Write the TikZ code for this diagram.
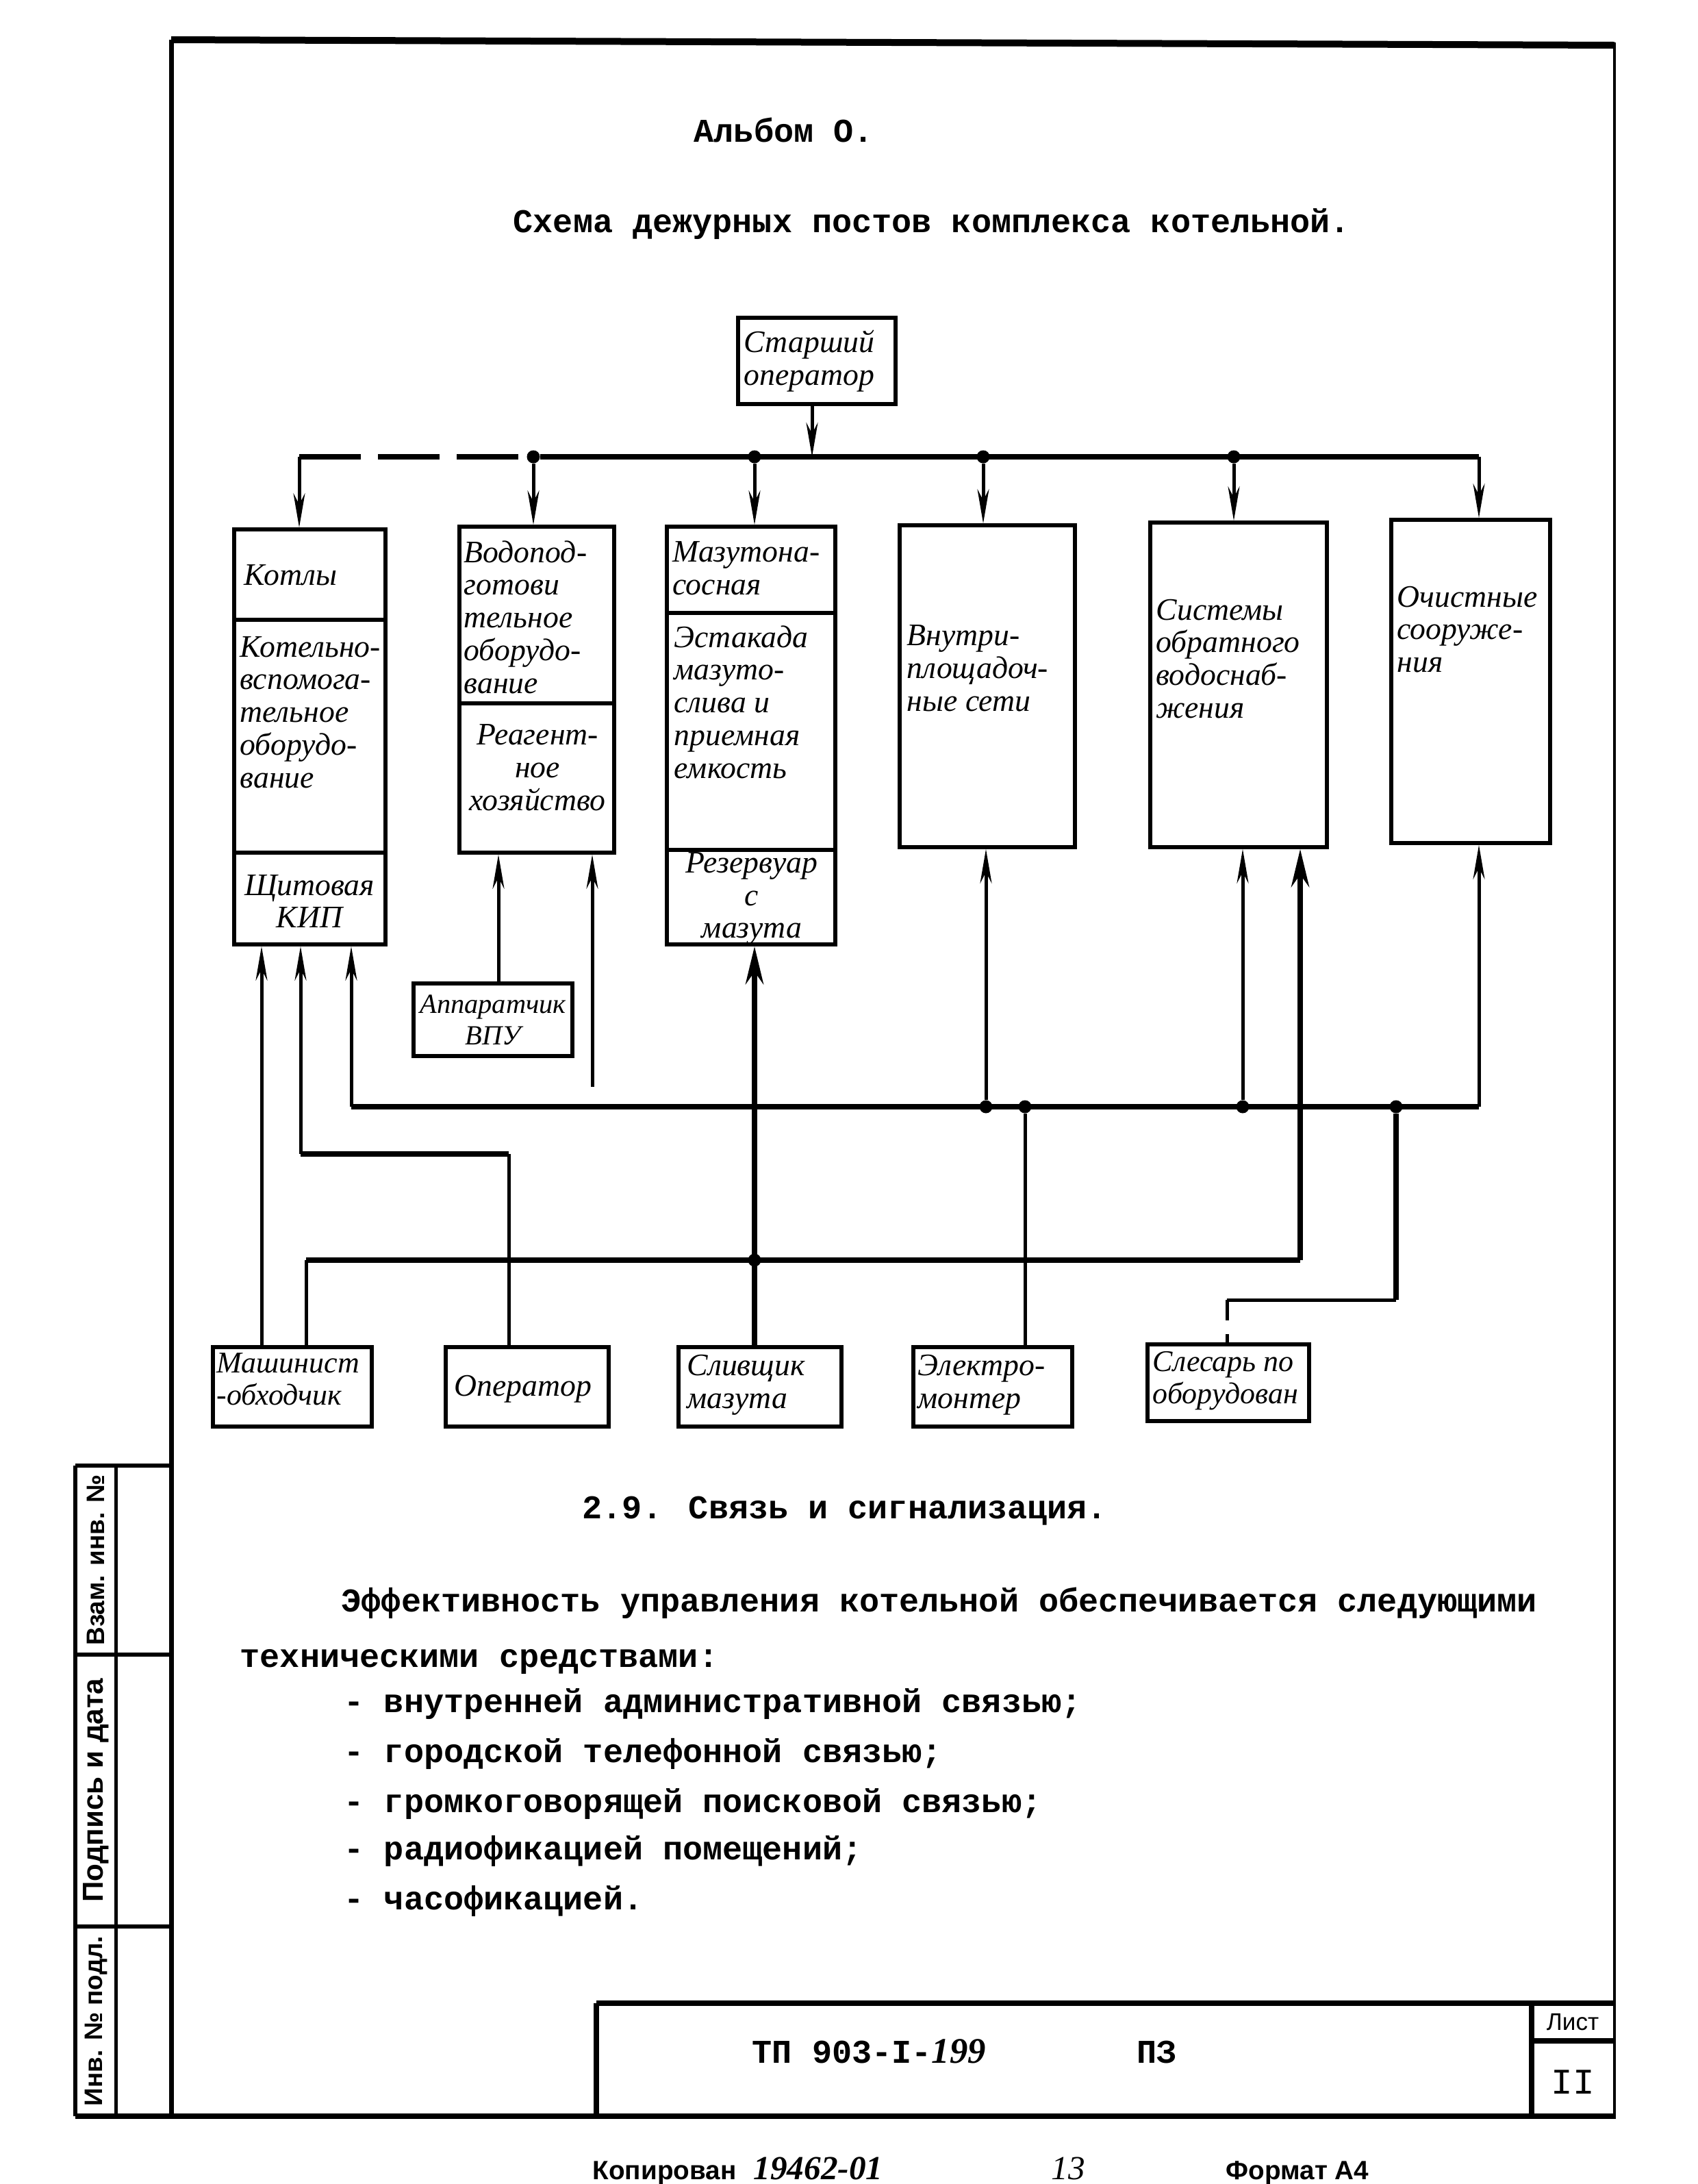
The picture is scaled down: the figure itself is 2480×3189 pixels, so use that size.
\documentclass[tikz,border=0pt]{standalone}
\usepackage{fontspec}
\setmainfont{Liberation Serif}
\newfontfamily\twfont{Liberation Mono}
\newfontfamily\hwfont{Liberation Serif}
\newfontfamily\sffnt{Liberation Sans}
\usetikzlibrary{arrows.meta}
\begin{document}
\begin{tikzpicture}[x=0.1mm,y=-0.1mm,
  box/.style={draw, line width=0.55mm, inner sep=0pt},
  hw/.style={font=\hwfont\itshape\fontsize{13}{13.6}\selectfont, inner sep=0pt, align=left},
  hwc/.style={hw, align=center},
  tw/.style={font=\twfont\bfseries\fontsize{13.8}{16}\selectfont, inner sep=0pt, anchor=base west},
  sfb/.style={font=\sffnt\bfseries\fontsize{11}{11}\selectfont, inner sep=0pt, anchor=base west},
  conn/.style={line width=0.5mm},
  bus/.style={line width=0.85mm},
  arr/.style={-{Stealth[length=5mm,width=1.7mm]}},
  arrb/.style={-{Stealth[length=5.5mm,width=2.6mm]}},
  dot/.style={circle, fill, inner sep=0pt, minimum size=1.9mm},
  frame/.style={line width=0.8mm}
]
\useasboundingbox (0,0) rectangle (2480,3189);

% ---------- page frame ----------
\draw[line width=1.0mm] (250,58) -- (2358,66);
\draw[line width=0.7mm] (250,58) -- (250,3090);
\draw[line width=0.45mm] (2358,62) -- (2358,3090);
\draw[frame] (110,3090) -- (2360,3090);
% left stamp strip
\draw[line width=0.6mm] (110,2140) -- (250,2140);
\draw[line width=0.6mm] (110,2416) -- (250,2416);
\draw[line width=0.6mm] (110,2813) -- (250,2813);
\draw[line width=0.6mm] (110,2140) -- (110,3090);
\draw[line width=0.5mm] (169,2140) -- (169,3090);
\node[rotate=90, font=\sffnt\bfseries\fontsize{10.5}{10.5}\selectfont] (st1) at (140,2278) {Взам. инв. №};
\node[rotate=90, font=\sffnt\bfseries\fontsize{12}{12}\selectfont] (st2) at (140,2614) {Подпись и дата};
\node[rotate=90, font=\sffnt\bfseries\fontsize{10.5}{10.5}\selectfont] (st3) at (140,2951) {Инв. № подл.};
% title block
\draw[frame] (871,2925) -- (2358,2925);
\draw[frame] (871,2925) -- (871,3090);
\draw[frame] (2237,2925) -- (2237,3090);
\draw[frame] (2237,2980) -- (2358,2980);
\node[tw] (tp) at (1098,3012) {ТП 903-I-{\hwfont\itshape\bfseries\fontsize{15}{15}\selectfont 199}};
\node[tw] (pz) at (1660,3012) {ПЗ};
\node[font=\sffnt\fontsize{10}{10}\selectfont, inner sep=0pt] (list) at (2297,2953) {Лист};
\node[font=\twfont\fontsize{15}{15}\selectfont, inner sep=0pt] (num) at (2297,3040) {II};
\node[sfb] (kop) at (865,3182) {Копирован};
\node[font=\hwfont\itshape\bfseries\fontsize{14}{14}\selectfont, inner sep=0pt, anchor=base west] (kopn) at (1100,3182) {19462-01};
\node[font=\hwfont\itshape\fontsize{14}{14}\selectfont, inner sep=0pt, anchor=base west] (pg) at (1535,3182) {13};
\node[sfb] (fmt) at (1790,3182) {Формат А4};

% ---------- headings ----------
\node[tw] (alb) at (1013,207) {Альбом О.};
\node[tw] (ttl) at (749,339) {Схема дежурных постов комплекса котельной.};

% ---------- boxes ----------
\node[box, minimum width=23mm, minimum height=12.6mm] (so) at (1193,527) {};
\node[hw, anchor=west] (tso) at (1086,527) {Старший\\оператор};

\node[box, minimum width=22.1mm, minimum height=13.2mm] (kot) at (452.5,839) {};
\node[box, minimum width=22.1mm, minimum height=34mm] (kvsp) at (452.5,1075) {};
\node[box, minimum width=22.1mm, minimum height=13.4mm] (kip) at (452.5,1312) {};
\node[hw, anchor=west] (tkot) at (356,840) {Котлы};
\node[hw, anchor=west] (tkvsp) at (350,1040) {Котельно-\\вспомога-\\тельное\\оборудо-\\вание};
\node[hwc] (tkip) at (452,1316) {Щитовая\\КИП};

\node[box, minimum width=22.6mm, minimum height=25.8mm] (vpu) at (784,898) {};
\node[box, minimum width=22.6mm, minimum height=21.8mm] (reag) at (784,1136) {};
\node[hw, anchor=west] (tvpu) at (677,901) {Водопод-\\готови\\тельное\\оборудо-\\вание};
\node[hwc] (treag) at (785,1121) {Реагент-\\ное\\хозяйство};

\node[box, minimum width=24.6mm, minimum height=12.6mm] (mns) at (1097,832) {};
\node[box, minimum width=24.6mm, minimum height=34.6mm] (est) at (1097,1068) {};
\node[box, minimum width=24.6mm, minimum height=13.8mm] (rez) at (1097,1310) {};
\node[hw, anchor=west] (tmns) at (982,830) {Мазутона-\\сосная};
\node[hw, anchor=west] (test) at (984,1025) {Эстакада\\мазуто-\\слива и\\приемная\\емкость};
\node[hwc] (trez) at (1098,1312) {Резервуар\\с\\мазута};

\node[box, minimum width=25.6mm, minimum height=47mm] (vnp) at (1442,1002) {};
\node[hw, anchor=west] (tvnp) at (1324,976) {Внутри-\\площадоч-\\ные сети};
\node[box, minimum width=25.8mm, minimum height=47.4mm] (sov) at (1809,1000) {};
\node[hw, anchor=west] (tsov) at (1688,962) {Системы\\обратного\\водоснаб-\\жения};
\node[box, minimum width=23.2mm, minimum height=47.2mm] (och) at (2148,995) {};
\node[hw, anchor=west] (toch) at (2040,919) {Очистные\\сооруже-\\ния};

\node[box, minimum width=23.2mm, minimum height=10.6mm] (app) at (720,1489) {};
\node[hwc, font=\hwfont\itshape\fontsize{11.5}{13}\selectfont] (tapp) at (720,1489) {Аппаратчик\\ВПУ};

\node[box, minimum width=23.2mm, minimum height=11.6mm] (mash) at (427,2025) {};
\node[hw, anchor=west, font=\hwfont\itshape\fontsize{12.5}{13.4}\selectfont] (tmash) at (316,2014) {Машинист\\-обходчик};
\node[box, minimum width=23.8mm, minimum height=11.6mm] (oper) at (770,2025) {};
\node[hw, anchor=west] (toper) at (663,2028) {Оператор};
\node[box, minimum width=23.8mm, minimum height=11.6mm] (sliv) at (1110,2025) {};
\node[hw, anchor=west] (tsliv) at (1003,2022) {Сливщик\\мазута};
\node[box, minimum width=23.2mm, minimum height=11.6mm] (elek) at (1450,2025) {};
\node[hw, anchor=west] (telek) at (1340,2022) {Электро-\\монтер};
\node[box, minimum width=23.6mm, minimum height=11.2mm] (sles) at (1794,2019) {};
\node[hw, anchor=west, font=\hwfont\itshape\fontsize{12.5}{13.4}\selectfont] (tsles) at (1683,2016) {Слесарь по\\оборудован};

% ---------- top distribution ----------
\coordinate (bL) at (437,667);
\coordinate (bR) at (2160,667);
\coordinate (sB) at (1186,667);
\node[dot] (dB) at (779,667) {};
\node[dot] (dC) at (1102,667) {};
\node[dot] (dD) at (1436,667) {};
\node[dot] (dE) at (1802,667) {};
\draw[bus, dash pattern=on 9mm off 2.5mm] (bL) -- (dB);
\draw[bus] (dB) -- (bR);
\draw[conn,arr] (so.south -| sB) -- (sB);
\draw[conn,arr] (bL) -- (kot.north -| bL);
\draw[conn,arr] (dB) -- (vpu.north -| dB);
\draw[conn,arr] (dC) -- (mns.north -| dC);
\draw[conn,arr] (dD) -- (vnp.north -| dD);
\draw[conn,arr] (dE) -- (sov.north -| dE);
\draw[conn,arr] (bR) -- (och.north -| bR);

% ---------- lower links ----------
\coordinate (k1) at (382,0);
\draw[conn,arr] (mash.north -| k1) -- (kip.south -| k1);
\coordinate (op1) at (439,1685);
\coordinate (op2) at (743,1685);
\draw[conn] (oper.north -| op2) -- (op2);
\draw[bus] (op2) -- (op1);
\draw[conn,arr] (op1) -- (kip.south -| op1);

\coordinate (b2L) at (513,1616);
\coordinate (b2R) at (2160,1616);
\draw[conn,arr] (b2L) -- (kip.south -| b2L);
\draw[bus] (b2L) -- (b2R);
\draw[conn,arr] (b2R) -- (och.south -| b2R);
\node[dot] (d2D) at (1440,1616) {};
\node[dot] (d2El) at (1497,1616) {};
\node[dot] (d2E) at (1815,1616) {};
\node[dot] (d2S) at (2039,1616) {};
\draw[conn,arr] (d2D) -- (vnp.south -| d2D);
\draw[conn,arr] (d2E) -- (sov.south -| d2E);
\coordinate (el1) at (1497,1660);
\draw[conn] (d2El) -- (el1);
\draw[conn] (el1) -- (elek.north -| el1);
\coordinate (s1) at (2039,1898);
\coordinate (s2) at (1792,1898);
\draw[bus] (d2S) -- (s1);
\draw[conn] (s1) -- (s2);
\draw[conn, dash pattern=on 3mm off 2mm] (s2) -- (sles.north -| s2);

\coordinate (b3L) at (447,1840);
\coordinate (b3R) at (1899,1840);
\node[dot] (d3C) at (1102,1840) {};
\draw[conn] (mash.north -| b3L) -- (b3L);
\draw[bus] (b3L) -- (b3R);
\draw[bus,arrb] (b3R) -- (sov.south -| b3R);
\draw[bus,arrb] (sliv.north -| d3C) -- (rez.south -| d3C);

\coordinate (r1) at (728,0);
\draw[conn,arr] (app.north -| r1) -- (reag.south -| r1);
\coordinate (r2) at (865,1587);
\draw[conn,arr] (r2) -- (reag.south -| r2);

% ---------- typed text ----------
\node[tw] (sec) at (850,2217) {2.9. Связь и сигнализация.};
\node[tw] (p1) at (498,2353) {Эффективность управления котельной обеспечивается следующими};
\node[tw] (p2) at (350,2434) {техническими средствами:};
\node[tw] (l1) at (502,2500) {- внутренней административной связью;};
\node[tw] (l2) at (502,2573) {- городской телефонной связью;};
\node[tw] (l3) at (502,2646) {- громкоговорящей поисковой связью;};
\node[tw] (l4) at (502,2715) {- радиофикацией помещений;};
\node[tw] (l5) at (502,2788) {- часофикацией.};
\end{tikzpicture}
\end{document}
